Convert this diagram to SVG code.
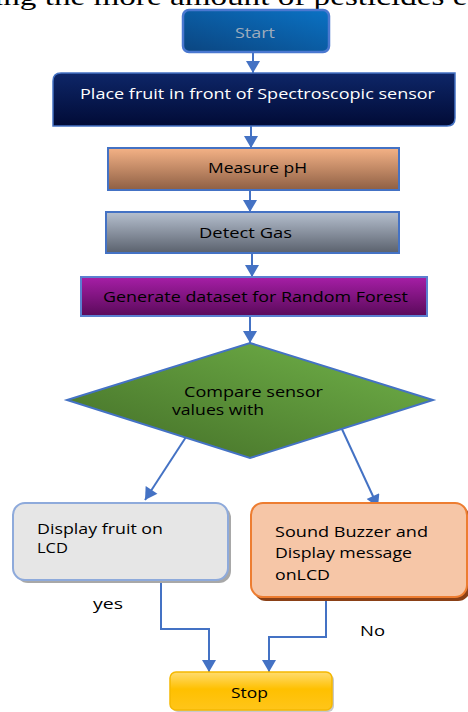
<svg xmlns="http://www.w3.org/2000/svg" width="468" height="712" viewBox="0 0 468 712">
<defs>
<linearGradient id="gStart" x1="0" y1="1" x2="1" y2="0"><stop offset="0" stop-color="#0b4580"/><stop offset="1" stop-color="#0a72c4"/></linearGradient>
<linearGradient id="gPlace" x1="0" y1="0" x2="0" y2="1"><stop offset="0" stop-color="#0e2668"/><stop offset="1" stop-color="#010b36"/></linearGradient>
<linearGradient id="gMeasure" x1="0" y1="0" x2="0" y2="1"><stop offset="0" stop-color="#f4b286"/><stop offset="1" stop-color="#8e5f44"/></linearGradient>
<linearGradient id="gDetect" x1="0" y1="0" x2="0" y2="1"><stop offset="0" stop-color="#b6c0cf"/><stop offset="1" stop-color="#5a616d"/></linearGradient>
<linearGradient id="gGen" x1="0" y1="0" x2="0" y2="1"><stop offset="0" stop-color="#a61ea6"/><stop offset="1" stop-color="#5a0a5a"/></linearGradient>
<linearGradient id="gDia" x1="0" y1="1" x2="1" y2="0"><stop offset="0" stop-color="#426c26"/><stop offset="1" stop-color="#72b44a"/></linearGradient>
<linearGradient id="gStop" x1="0" y1="0" x2="0" y2="1"><stop offset="0" stop-color="#ffdc70"/><stop offset="0.45" stop-color="#ffc000"/><stop offset="1" stop-color="#ffc51a"/></linearGradient>
<marker id="ah" markerUnits="userSpaceOnUse" markerWidth="14" markerHeight="14" viewBox="0 0 12 14" refX="12" refY="7" orient="auto"><path d="M0,0 L12,7 L0,14 Z" fill="#4472c4"/></marker>
<style>
.t{font-family:"Open Sans","Liberation Sans",sans-serif;font-size:15px;fill:#000}
.c{stroke:#4472c4;stroke-width:2;fill:none}
</style>
</defs>
<text x="-6" y="5" font-family="Liberation Serif, serif" font-size="26" textLength="490" lengthAdjust="spacingAndGlyphs" fill="#000">ing the more amount of pesticides en</text>
<g id="connectors">
<path class="c" d="M253,53 V73" marker-end="url(#ah)"/>
<path class="c" d="M251,126 V148" marker-end="url(#ah)"/>
<path class="c" d="M250,190 V212" marker-end="url(#ah)"/>
<path class="c" d="M252,253 V277" marker-end="url(#ah)"/>
<path class="c" d="M250,316 V343" marker-end="url(#ah)"/>
<path class="c" d="M186,437 L145,500" marker-end="url(#ah)"/>
<path class="c" d="M341,427 L378,507" marker-end="url(#ah)"/>
<path class="c" d="M161,582 V629 H209 V672" marker-end="url(#ah)"/>
<path class="c" d="M326,600 V637 H269 V672" marker-end="url(#ah)"/>
</g>
<g id="start">
<rect x="183" y="10" width="146" height="42" rx="6" fill="url(#gStart)" stroke="#4a78d0" stroke-width="2.5"/>
<text class="t" x="235" y="38" textLength="40" lengthAdjust="spacingAndGlyphs" style="fill:#9eacbc">Start</text>
</g>
<g id="place">
<path d="M53,81 Q53,73 61,73 H455 V118 Q455,126 447,126 H53 Z" fill="url(#gPlace)" stroke="#4472c4" stroke-width="1.5"/>
<text class="t" x="80" y="99" textLength="355" lengthAdjust="spacingAndGlyphs" style="fill:#fff">Place fruit in front of Spectroscopic sensor</text>
</g>
<g id="measure">
<rect x="108" y="148" width="291" height="42" fill="url(#gMeasure)" stroke="#4472c4" stroke-width="2"/>
<text class="t" x="208" y="173" textLength="99" lengthAdjust="spacingAndGlyphs">Measure pH</text>
</g>
<g id="detect">
<rect x="106" y="212" width="293" height="41" fill="url(#gDetect)" stroke="#4472c4" stroke-width="2"/>
<text class="t" x="199" y="238" textLength="93" lengthAdjust="spacingAndGlyphs">Detect Gas</text>
</g>
<g id="generate">
<rect x="81" y="277" width="346" height="39" fill="url(#gGen)" stroke="#5b80d0" stroke-width="2"/>
<text class="t" x="103" y="302" textLength="305" lengthAdjust="spacingAndGlyphs">Generate dataset for Random Forest</text>
</g>
<g id="compare">
<path d="M250,343 L433,400 L250,458 L67,400 Z" fill="url(#gDia)" stroke="#4472c4" stroke-width="2"/>
<text class="t" x="184" y="397" textLength="139" lengthAdjust="spacingAndGlyphs">Compare sensor</text>
<text class="t" x="172" y="415" textLength="92" lengthAdjust="spacingAndGlyphs">values with</text>
</g>
<g id="display">
<rect x="16" y="506" width="215" height="77" rx="12" fill="#a8a8a8"/>
<rect x="13" y="503" width="215" height="77" rx="12" fill="#e6e6e6" stroke="#8eaadb" stroke-width="2"/>
<text class="t" x="37" y="534" textLength="126" lengthAdjust="spacingAndGlyphs">Display fruit on</text>
<text class="t" x="37" y="553" textLength="31" lengthAdjust="spacingAndGlyphs">LCD</text>
</g>
<g id="buzzer">
<rect x="254" y="506" width="216" height="95" rx="12" fill="#8a4016"/>
<rect x="251" y="503" width="216" height="94" rx="12" fill="#f6c6a7" stroke="#ed7d31" stroke-width="2"/>
<text class="t" x="275" y="537" textLength="153" lengthAdjust="spacingAndGlyphs">Sound Buzzer and</text>
<text class="t" x="275" y="558" textLength="137" lengthAdjust="spacingAndGlyphs">Display message</text>
<text class="t" x="275" y="580" textLength="55" lengthAdjust="spacingAndGlyphs">onLCD</text>
</g>
<text class="t" x="93" y="609" textLength="30" lengthAdjust="spacingAndGlyphs">yes</text>
<text class="t" x="360" y="636" textLength="25" lengthAdjust="spacingAndGlyphs">No</text>
<g id="stop">
<rect x="172" y="674" width="162" height="38" rx="6" fill="#c8c8c8"/>
<rect x="170" y="672" width="162" height="38" rx="6" fill="url(#gStop)" stroke="#f5b800" stroke-width="1.5"/>
<text class="t" x="231" y="698" textLength="37" lengthAdjust="spacingAndGlyphs">Stop</text>
</g>
</svg>
